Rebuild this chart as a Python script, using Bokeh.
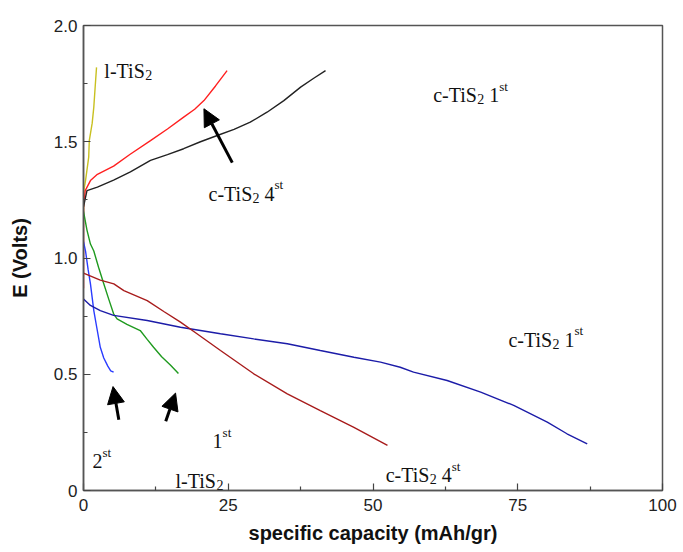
from bokeh.plotting import figure
from bokeh.models import FixedTicker, Arrow, NormalHead, Range1d
from bokeh.core.properties import value
from bokeh.embed import file_html
from bokeh.resources import INLINE

# ---------------- data ----------------
# l-TiS2 charge (yellow)
ltis_ch_x = [0, 0.05, 0.35, 0.9, 1.0, 1.5, 1.78, 2.0, 2.25]
ltis_ch_y = [1.20, 1.29, 1.333, 1.434, 1.505, 1.58, 1.649, 1.73, 1.82]

# c-TiS2 4th charge (red)
c4_ch_x = [0, 0, 0.3, 1.2, 2.4, 5.2, 8.0, 11.57, 14.5, 17.3, 19.2, 20.8, 22.8, 24.8]
c4_ch_y = [0.87, 1.22, 1.29, 1.333, 1.36, 1.395, 1.445, 1.505, 1.555, 1.606, 1.64, 1.677, 1.74, 1.806]

# c-TiS2 1st charge (black)
c1_ch_x = [0, 0.6, 2.4, 5.2, 8.1, 11.57, 14.5, 17.3, 20.2, 23.1, 26.0, 28.8, 31.7, 34.6, 37.5, 39.7, 41.8]
c1_ch_y = [1.22, 1.29, 1.305, 1.335, 1.37, 1.42, 1.445, 1.47, 1.50, 1.527, 1.553, 1.584, 1.627, 1.677, 1.735, 1.772, 1.806]

# l-TiS2 1st discharge (green)
l1_dis_x = [0, 0.6, 1.2, 1.78, 2.6, 3.5, 4.4, 5.2, 5.8, 7.5, 9.8, 11.0, 12.1, 13.5, 15.0, 16.4]
l1_dis_y = [1.20, 1.12, 1.06, 1.03, 0.96, 0.889, 0.82, 0.76, 0.738, 0.715, 0.688, 0.65, 0.616, 0.575, 0.54, 0.503]

# l-TiS2 2nd discharge (blue)
l2_dis_x = [0, 0.35, 0.8, 1.2, 1.78, 2.3, 2.9, 3.5, 4.2, 4.7, 5.2]
l2_dis_y = [1.07, 1.03, 0.95, 0.889, 0.774, 0.70, 0.616, 0.57, 0.535, 0.515, 0.509]

# c-TiS2 1st discharge (navy)
c1_dis_x = [0, 1.2, 2.9, 5.2, 11.0, 16.75, 23.66, 29.4, 35.2, 40.9, 46.7, 51.3, 54.7, 57.0, 62.8, 68.6, 74.3, 80.1, 83.5, 87.0]
c1_dis_y = [0.824, 0.796, 0.774, 0.753, 0.731, 0.702, 0.674, 0.652, 0.631, 0.602, 0.573, 0.552, 0.530, 0.509, 0.473, 0.423, 0.366, 0.294, 0.244, 0.201]

# c-TiS2 4th discharge (dark red)
c4_dis_x = [0, 2.9, 5.24, 6.97, 11.0, 13.87, 16.75, 19.6, 23.66, 29.4, 35.2, 40.9, 46.7, 52.5]
c4_dis_y = [0.935, 0.905, 0.889, 0.86, 0.817, 0.77, 0.724, 0.674, 0.602, 0.502, 0.416, 0.344, 0.272, 0.194]

x_ticks = [0, 25, 50, 75, 100]
x_minor = [12.5, 37.5, 62.5, 87.5]
y_ticks = [0, 0.5, 1.0, 1.5, 2.0]
y_minor = [0.25, 0.75, 1.25, 1.75]
y_tick_labels = ["0", "0.5", "1.0", "1.5", "2.0"]

# annotations: (x, y, main text, subscript, number, superscript)
labels = [
    (3.6, 1.803, "l-TiS", "2", "", ""),
    (60.4, 1.699, "c-TiS", "2", "1", "st"),
    (21.6, 1.276, "c-TiS", "2", "4", "st"),
    (73.4, 0.649, "c-TiS", "2", "1", "st"),
    (52.2, 0.065, "c-TiS", "2", "4", "st"),
    (15.9, 0.043, "l-TiS", "2", "", ""),
    (22.3, 0.211, "", "", "1", "st"),
    (1.55, 0.125, "", "", "2", "st"),
]
# arrows: (x_tail, y_tail, x_tip, y_tip)
arrows = [
    (25.7, 1.41, 20.8, 1.642),
    (6.1, 0.304, 5.1, 0.447),
    (14.2, 0.298, 15.9, 0.419),
]

# ---------------- figure ----------------
p = figure(width=683, height=552, x_range=Range1d(0, 100), y_range=Range1d(0, 2),
           output_backend="svg", toolbar_location=None,
           min_border_left=83, min_border_right=21, min_border_top=25, min_border_bottom=62,
           x_axis_label="specific capacity (mAh/gr)", y_axis_label="E (Volts)")
p.grid.visible = False
p.outline_line_color = "#555555"
p.outline_line_width = 1.5
p.background_fill_color = "white"
p.border_fill_color = "white"

for ax in (p.xaxis[0], p.yaxis[0]):
    ax.axis_line_color = "#555555"
    ax.axis_line_width = 1.5
    ax.major_tick_in = 7
    ax.major_tick_out = 0
    ax.minor_tick_in = 4
    ax.minor_tick_out = 0
    ax.major_tick_line_color = "#444444"
    ax.minor_tick_line_color = "#444444"
    ax.major_tick_line_width = 1.2
    ax.minor_tick_line_width = 1.2
    ax.major_label_text_font = "Liberation Sans"
    ax.major_label_text_font_size = "17px"
    ax.major_label_text_color = "#222222"
    ax.axis_label_text_font = "Liberation Sans"
    ax.axis_label_text_font_style = "bold"
    ax.axis_label_text_font_size = "20px"
    ax.axis_label_text_color = "#111111"

p.xaxis.ticker = FixedTicker(ticks=x_ticks, minor_ticks=x_minor)
p.yaxis.ticker = FixedTicker(ticks=y_ticks, minor_ticks=y_minor)
p.yaxis.major_label_overrides = {t: s for t, s in zip(y_ticks, y_tick_labels)}
p.xaxis.major_label_standoff = 8
p.yaxis.major_label_standoff = 6
p.xaxis.axis_label_standoff = 8
p.yaxis.axis_label_standoff = 20

lw = 1.4
p.line(ltis_ch_x, ltis_ch_y, line_color="#c8c020", line_width=lw)
p.line(c4_ch_x, c4_ch_y, line_color="#ff2020", line_width=lw)
p.line(c1_ch_x, c1_ch_y, line_color="#222222", line_width=lw)
p.line(l1_dis_x, l1_dis_y, line_color="#1f9a1f", line_width=lw)
p.line(l2_dis_x, l2_dis_y, line_color="#2a3cff", line_width=lw)
p.line(c1_dis_x, c1_dis_y, line_color="#1c1ca8", line_width=lw)
p.line(c4_dis_x, c4_dis_y, line_color="#a81c1c", line_width=lw)

serif = value("Liberation Serif")
main_size = 20
def piece(x, y, txt, dx, dy, size):
    if not txt:
        return
    p.text(x=[x], y=[y], text=[txt], x_offset=dx, y_offset=dy,
           text_font=serif, text_font_size=f"{size}px", text_color="#111111",
           text_align="left", text_baseline="alphabetic")

for (x, y, main, sub, num, sup) in labels:
    dx = 0
    if main:
        piece(x, y, main, 0, 0, main_size)
        dx = 44 if main.startswith("c") else 41
        piece(x, y, sub, dx, 4, 14)
        dx += 7 + 5
    piece(x, y, num, dx, 0, main_size)
    if num:
        dx += 10
    piece(x, y, sup, dx, -9, 13)

for (x0, y0, x1, y1) in arrows:
    p.add_layout(Arrow(end=NormalHead(size=17, fill_color="black", line_color="black"),
                       x_start=x0, y_start=y0, x_end=x1, y_end=y1,
                       line_width=3, line_color="black"))

open("out.html", "w").write(file_html(p, INLINE))
